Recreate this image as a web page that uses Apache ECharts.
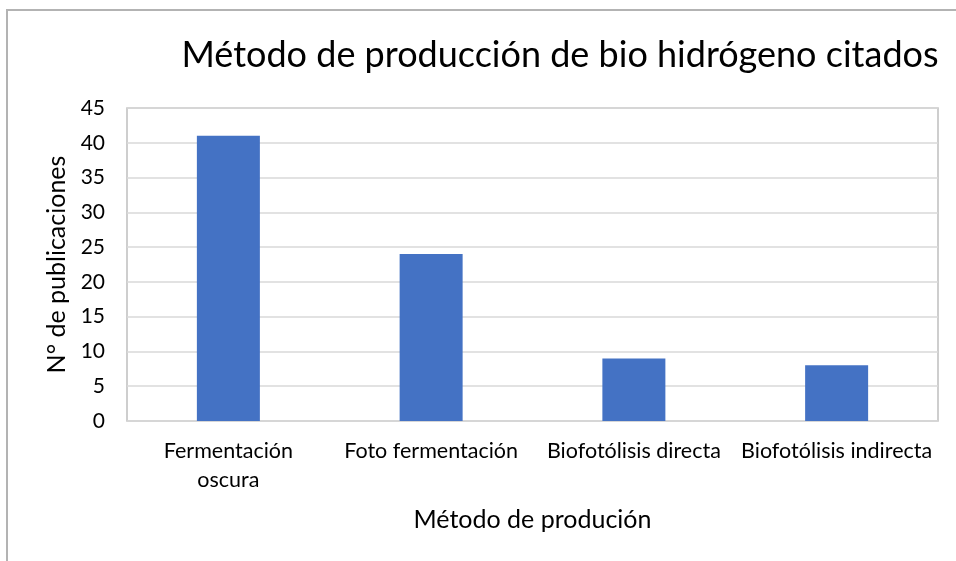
<!DOCTYPE html>
<html>
<head>
<meta charset="utf-8">
<script src="https://cdn.jsdelivr.net/npm/echarts@6/dist/echarts.min.js"></script>
<style>
  html, body { margin: 0; padding: 0; background: #fff; }
  #chart { width: 956px; height: 561px; }
</style>
</head>
<body>
<div id="chart"></div>
<script>
// datos
var categorias = ["Fermentación\noscura", "Foto fermentación", "Biofotólisis directa", "Biofotólisis indirecta"];
var publicaciones = [41, 24, 9, 8];

var fuente = "Lato, 'Open Sans', sans-serif";
var chart = echarts.init(document.getElementById("chart"));

chart.setOption({
    animation: false,
    textStyle: { fontFamily: fuente, color: "#000" },
    title: {
        text: "Método de producción de bio hidrógeno citados",
        left: 555,
        top: 32,
        textAlign: "center",
        textStyle: { fontSize: 36, fontWeight: "normal", color: "#000", fontFamily: fuente }
    },
    graphic: [{
        type: "rect",
        shape: { x: 7, y: 10, width: 1200, height: 1000 },
        style: { fill: "none", stroke: "#b3b3b3", lineWidth: 2 },
        silent: true
    }],
    grid: {
        left: 127, right: 18, top: 108, bottom: 140,
        show: true, borderColor: "#bfbfbf", borderWidth: 1.5
    },
    xAxis: {
        type: "category",
        data: categorias,
        name: "Método de produción",
        nameLocation: "middle",
        nameGap: 86,
        nameTextStyle: { fontSize: 25, color: "#000", fontFamily: fuente },
        axisLine: { show: false },
        axisTick: { show: false },
        axisLabel: { fontSize: 21.5, color: "#000", margin: 16, lineHeight: 29, interval: 0 }
    },
    yAxis: {
        type: "value",
        min: 0, max: 45, interval: 5,
        name: "N° de publicaciones",
        nameLocation: "middle",
        nameGap: 52,
        nameTextStyle: { fontSize: 25, color: "#000", fontFamily: fuente },
        axisLine: { show: false },
        axisTick: { show: false },
        axisLabel: { fontSize: 21, color: "#000", margin: 22 },
        splitLine: { lineStyle: { color: "#d9d9d9", width: 1.5 } }
    },
    series: [{
        type: "bar",
        data: publicaciones,
        barWidth: 63,
        itemStyle: { color: "#4472c4" }
    }]
});
</script>
</body>
</html>
